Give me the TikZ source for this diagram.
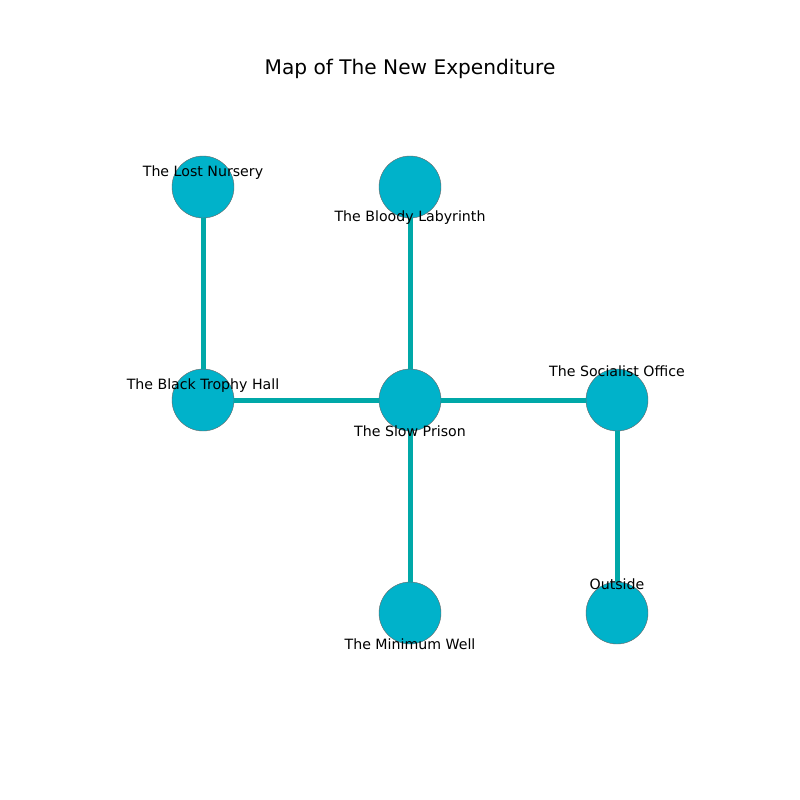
\documentclass[tikz,border=0pt]{standalone}
\usepackage{fontspec}
\setmainfont{DejaVu Sans}
\usetikzlibrary{positioning}
\definecolor{roomfill}{HTML}{00B2CA}
\definecolor{roomedge}{HTML}{00A8A8}
\newlength{\unit}
\setlength{\unit}{0.72pt}
\tikzset{
	room/.style={circle,fill=roomfill,draw=gray!80!black,line width=0.3pt,minimum size=62\unit,inner sep=0pt},
	passage/.style={draw=roomedge,line width=3.6pt},
	roomname/.style={font=\fontsize{10.2}{12}\selectfont,inner sep=0pt}
}

\begin{document}
\begin{tikzpicture}[x=0.72pt,y=-0.72pt]
\useasboundingbox (0,0) rectangle (800,800);
\node (title) at (410,69) {\fontsize{14.5}{17}\selectfont Map of The New Expenditure};

\node[room] (nursery) at (203,187) {};
\node[room] (labyrinth) at (410,187) {};
\node[room] (trophy) at (203,400) {};
\node[room] (prison) at (410,400) {};
\node[room] (office) at (617,400) {};
\node[room] (well) at (410,613) {};
\node[room] (outside) at (617,613) {};

% draw the connections
\draw[passage] (nursery)--(trophy);
\draw[passage] (labyrinth)--(prison);
\draw[passage] (trophy)--(prison);
\draw[passage] (prison)--(office);
\draw[passage] (prison)--(well);
\draw[passage] (office)--(outside);

% room names
\node[roomname] (nurseryname) at (203,173) {The Lost Nursery};
\node[roomname] (labyrinthname) at (410,218) {The Bloody Labyrinth};
\node[roomname] (trophyname) at (203,386) {The Black Trophy Hall};
\node[roomname] (prisonname) at (410,431) {The Slow Prison};
\node[roomname] (officename) at (617,371) {The Socialist Office};
\node[roomname] (wellname) at (410,644) {The Minimum Well};
\node[roomname] (outsidename) at (617,584) {Outside};
\end{tikzpicture}
\end{document}
